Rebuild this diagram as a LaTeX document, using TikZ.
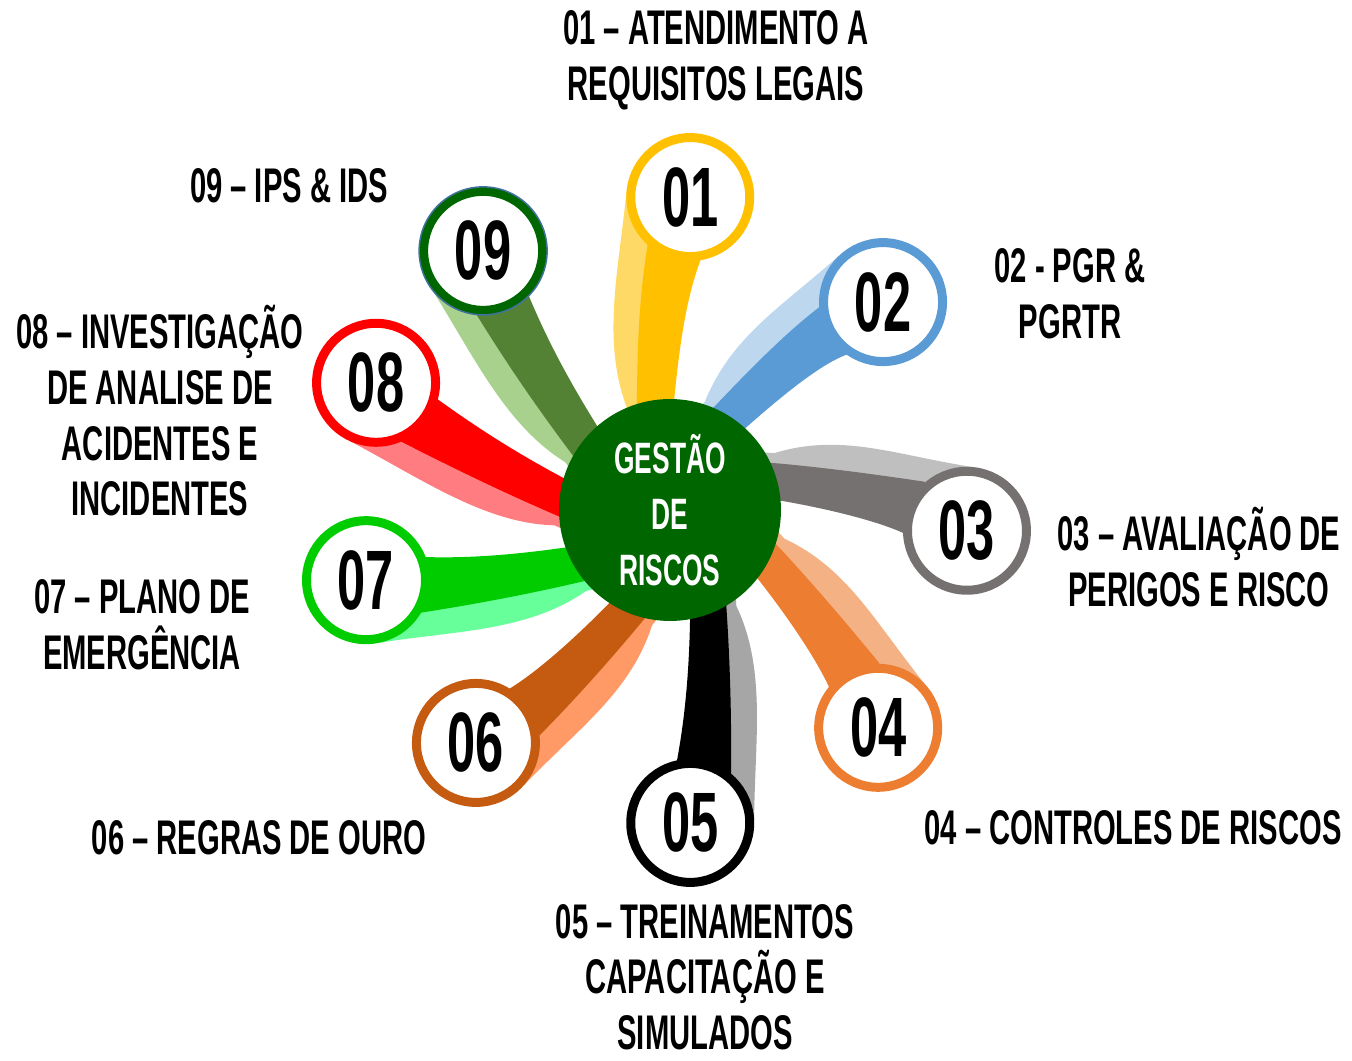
\documentclass[tikz,border=0pt]{standalone}
\usepackage{fontspec}
\newfontfamily\agency{Liberation Sans}[FakeStretch=0.6]
\usetikzlibrary{calc}

\definecolor{amarelo}{HTML}{FFC000}
\definecolor{amareloC}{HTML}{FFD966}
\definecolor{azul}{HTML}{5B9BD5}
\definecolor{azulC}{HTML}{BDD7EE}
\definecolor{cinza}{HTML}{767171}
\definecolor{cinzaC}{HTML}{BFBFBF}
\definecolor{laranja}{HTML}{ED7D31}
\definecolor{laranjaC}{HTML}{F4B183}
\definecolor{preto}{HTML}{000000}
\definecolor{pretoC}{HTML}{A6A6A6}
\definecolor{marrom}{HTML}{C55A11}
\definecolor{marromC}{HTML}{FF9966}
\definecolor{verde}{HTML}{00CC00}
\definecolor{verdeC}{HTML}{66FF99}
\definecolor{vermelho}{HTML}{FF0000}
\definecolor{vermelhoC}{HTML}{FF7C80}
\definecolor{oliva}{HTML}{548235}
\definecolor{olivaC}{HTML}{A9D18E}
\definecolor{verdeEsc}{HTML}{006600}
\definecolor{contorno}{HTML}{41719C}

\tikzset{
  numero/.style={circle, draw=#1, fill=white, line width=0.18cm,
    minimum size=2.38cm, inner sep=0pt,
    font=\agency\bfseries\fontsize{48}{48}\selectfont},
  centro/.style={circle, fill=verdeEsc, minimum size=4.44cm, inner sep=0pt,
    text=white, align=center,
    font=\agency\bfseries\fontsize{25}{32}\selectfont},
  rotulo/.style={align=center, inner sep=0pt,
    font=\agency\bfseries\fontsize{27.7}{31.7}\selectfont}
}

\begin{document}
\begin{tikzpicture}[x=0.02cm, y=0.02cm]
  \useasboundingbox (0,0) rectangle (1352,1061);
  \coordinate (o) at (670,551);

  % caudas (faixa clara e faixa escura)
  \foreach \ang/\dist/\tw/\escuro/\claro in {86.3/313.6/-10/amarelo/amareloC,
      44.3/297.7/-7/azul/azulC, -4.0/297.7/4/cinza/cinzaC,
      -46.3/301.3/3/laranja/laranjaC, -86.3/313.6/0/preto/pretoC,
      -129.8/303.2/0/marrom/marromC, -167.0/312.0/0/verde/verdeC,
      156.6/320.3/0/vermelho/vermelhoC, 125.8/319.5/-3/oliva/olivaC}
    {
      \begin{scope}[shift={(o)}, rotate=\ang]
        \fill[\claro] (60,{20+\tw}) -- (60,{60+\tw}) -- (100,{60+\tw})
          .. controls (165,{86+0.7*\tw}) and ({\dist-80},{70+0.3*\tw}) .. (\dist,64)
          -- (\dist,0) -- cycle;
        \fill[\escuro] (60,{13+\tw}) -- (110,{13+\tw})
          .. controls (170,{8+0.7*\tw}) and (215,{0.3*\tw}) .. ({\dist-60},{-10+0.5*\tw})
          -- (\dist,0) -- ({\dist-46},{44+0.5*\tw})
          .. controls (210,{48+0.3*\tw}) and (160,{50+0.7*\tw}) .. (105,{50+\tw})
          -- (60,{50+\tw}) -- cycle;
      \end{scope}
    }

  % circulos numerados
  \foreach \ang/\dist/\aro/\nr in {86.3/313.6/amarelo/01, 44.3/297.7/azul/02,
      -4.0/297.7/cinza/03, -46.3/301.3/laranja/04, -86.3/313.6/preto/05,
      -129.8/303.2/marrom/06, -167.0/312.0/verde/07, 156.6/320.3/vermelho/08,
      125.8/319.5/verdeEsc/09}
    {
      \node[numero=\aro] (n\nr) at ($(o)+(\ang:\dist)$) {\nr};
    }
  \draw[contorno, line width=0.03cm] (n09.center) circle (64);

  % centro
  \node[centro] (c) at (o) {GESTÃO\\DE\\RISCOS};

  % rotulos
  \node[rotulo] (r01) at (716,1001) {01 – ATENDIMENTO A\\REQUISITOS LEGAIS};
  \node[rotulo] (r02) at (1070,767) {02 - PGR \&\\PGRTR};
  \node[rotulo] (r03) at (1199,504) {03 – AVALIAÇÃO DE\\PERIGOS E RISCO};
  \node[rotulo] (r04) at (1133,233) {04 – CONTROLES DE RISCOS};
  \node[rotulo] (r05) at (705,84) {05 – TREINAMENTOS\\CAPACITAÇÃO E\\SIMULADOS};
  \node[rotulo] (r06) at (259,223) {06 – REGRAS DE OURO};
  \node[rotulo] (r07) at (142,436) {07 – PLANO DE\\EMERGÊNCIA};
  \node[rotulo] (r08) at (160,650) {08 – INVESTIGAÇÃO\\DE ANALISE DE\\ACIDENTES E\\INCIDENTES};
  \node[rotulo] (r09) at (289,875) {09 – IPS \& IDS};
\end{tikzpicture}
\end{document}
